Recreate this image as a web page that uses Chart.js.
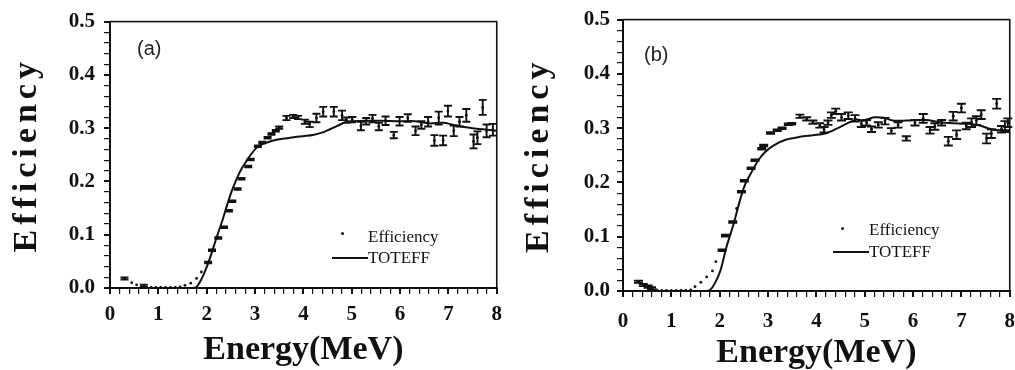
<!DOCTYPE html>
<html>
<head>
<meta charset="utf-8">
<script src="https://cdn.jsdelivr.net/npm/chart.js@4.4.1/dist/chart.umd.min.js"></script>
<style>
  body { margin: 0; background: #fff; width: 1015px; height: 370px; position: relative; overflow: hidden; }
  .panel { position: absolute; top: 0; height: 370px; }
  .tag { position: absolute; font: 20px "Liberation Sans", Arial, sans-serif; color: #222; }
  .leg { position: absolute; font: 17px "Liberation Serif", "Times New Roman", serif; color: #111; line-height: 20px; }
  .dot { position: absolute; width: 3px; height: 3px; background: #111; border-radius: 50%; }
  .seg { position: absolute; height: 2px; background: #111; }
</style>
</head>
<body>
<div class="panel" style="left:0;width:510px"><canvas id="chartA"></canvas></div>
<div class="panel" style="left:510px;width:517px"><canvas id="chartB"></canvas></div>

<div class="tag" style="left:137px;top:37px">(a)</div>
<div class="tag" style="left:644px;top:43px">(b)</div>

<div class="dot" style="left:341px;top:232px"></div>
<div class="leg" style="left:368px;top:227px">Efficiency</div>
<div class="seg" style="left:332px;top:257px;width:36px"></div>
<div class="leg" style="left:368px;top:248px">TOTEFF</div>

<div class="dot" style="left:841px;top:227px"></div>
<div class="leg" style="left:869px;top:220px">Efficiency</div>
<div class="seg" style="left:833px;top:251px;width:36px"></div>
<div class="leg" style="left:869px;top:242px">TOTEFF</div>

<script>
// tick labels
const xTickLabels = ['0', '1', '2', '3', '4', '5', '6', '7', '8'];
const yTickLabels = ['0.0', '0.1', '0.2', '0.3', '0.4', '0.5'];

// panel (a) - measured efficiency
const energyA = [0.30, 0.45, 0.55, 0.70, 0.85, 0.95, 1.05, 1.15, 1.25, 1.35, 1.45, 1.55, 1.67, 1.79, 1.89,
  2.03, 2.11, 2.24, 2.36, 2.46, 2.53, 2.64, 2.72, 2.86, 2.91, 3.06, 3.15, 3.26, 3.34, 3.43, 3.50,
  3.65, 3.79, 3.89, 4.03, 4.13, 4.27, 4.41, 4.63, 4.80, 4.89,
  5.01, 5.19, 5.30, 5.43, 5.56, 5.70, 5.87, 5.99, 6.16, 6.32, 6.44, 6.58, 6.71, 6.80, 6.89, 6.99,
  7.11, 7.23, 7.37, 7.52, 7.60, 7.71, 7.79, 7.92];
const effA = [0.018, 0.010, 0.006, 0.004, 0.001, 0.001, 0.001, 0.001, 0.001, 0.001, 0.002, 0.005, 0.009, 0.018, 0.030,
  0.048, 0.071, 0.094, 0.114, 0.145, 0.163, 0.186, 0.205, 0.228, 0.241, 0.266, 0.273, 0.282, 0.289, 0.295, 0.301,
  0.319, 0.322, 0.320, 0.312, 0.307, 0.319, 0.331, 0.331, 0.324, 0.315,
  0.316, 0.304, 0.313, 0.318, 0.303, 0.314, 0.287, 0.313, 0.319, 0.295, 0.306, 0.312, 0.277, 0.319, 0.277, 0.332,
  0.295, 0.312, 0.324, 0.275, 0.282, 0.339, 0.295, 0.297];
const errA = [0.002, null, null, 0.002, null, null, null, null, null, null, null, null, null, null, null,
  0.0015, 0.0015, 0.0015, 0.0015, 0.0015, 0.0015, 0.0015, 0.0015, 0.0015, 0.0015, 0.0015, 0.0015, 0.0015, 0.0015, 0.0015, 0.002,
  0.004, 0.003, 0.003, 0.004, 0.005, 0.008, 0.009, 0.009, 0.009, 0.005,
  0.005, 0.008, 0.006, 0.007, 0.007, 0.008, 0.006, 0.008, 0.007, 0.008, 0.007, 0.009, 0.010, 0.012, 0.009, 0.010,
  0.010, 0.009, 0.012, 0.013, 0.012, 0.014, 0.012, 0.011];

// panel (a) - TOTEFF curve
const totEnergyA = [0.3, 0.5, 1.0, 1.5, 1.7, 1.79, 1.9, 2.0, 2.1, 2.17, 2.25, 2.34, 2.42, 2.51, 2.58, 2.65, 2.73, 2.82, 2.92, 3.03,
  3.15, 3.31, 3.5, 3.65, 3.8, 3.99, 4.2, 4.4, 4.55, 4.72, 4.89, 5.0, 5.3, 5.6, 6.0, 6.3, 6.6, 6.9, 7.2, 7.5, 7.8, 8.0];
const totEffA = [0, 0, 0, 0, 0, 0.002, 0.018, 0.039, 0.065, 0.085, 0.107, 0.131, 0.155, 0.18, 0.196, 0.211, 0.225, 0.238, 0.251, 0.263,
  0.27, 0.275, 0.279, 0.281, 0.283, 0.285, 0.287, 0.292, 0.298, 0.305, 0.312, 0.313, 0.314, 0.314, 0.313, 0.313, 0.309, 0.31, 0.304, 0.30, 0.297, 0.295];

// panel (b) - measured efficiency
const energyB = [0.32, 0.42, 0.52, 0.59, 0.7, 0.8, 0.9, 1.0, 1.1, 1.2, 1.3, 1.4, 1.49, 1.61, 1.73, 1.85, 1.92,
  2.05, 2.12, 2.27, 2.35, 2.45, 2.51, 2.65, 2.73, 2.87, 2.91, 3.05, 3.19, 3.29, 3.42, 3.49,
  3.66, 3.80, 3.93, 4.07, 4.16, 4.24, 4.31, 4.40, 4.52,
  4.66, 4.80, 4.93, 5.04, 5.14, 5.28, 5.42, 5.55, 5.69, 5.86, 6.04, 6.21, 6.35, 6.45, 6.59,
  6.73, 6.83, 6.90, 7.0, 7.10, 7.21, 7.31, 7.41, 7.52, 7.62, 7.73, 7.83, 7.90, 7.96];
const effB = [0.017, 0.011, 0.008, 0.005, 0.002, 0.001, 0.001, 0.001, 0.001, 0.001, 0.001, 0.002, 0.008, 0.016, 0.026, 0.037, 0.054,
  0.075, 0.102, 0.127, 0.152, 0.183, 0.203, 0.226, 0.241, 0.262, 0.268, 0.291, 0.296, 0.300, 0.307, 0.308,
  0.322, 0.317, 0.311, 0.305, 0.297, 0.310, 0.324, 0.331, 0.320,
  0.323, 0.318, 0.308, 0.310, 0.298, 0.306, 0.313, 0.295, 0.306, 0.281, 0.310, 0.318, 0.296, 0.303, 0.310,
  0.276, 0.322, 0.288, 0.337, 0.304, 0.310, 0.314, 0.325, 0.281, 0.290, 0.345, 0.298, 0.303, 0.310];
const errB = [0.002, 0.002, 0.002, 0.002, null, null, null, null, null, null, null, null, null, null, null, null, null,
  0.0015, 0.0015, 0.0015, null, 0.0015, 0.0015, 0.0015, 0.0015, 0.0015, 0.0015, 0.0015, 0.0015, 0.0015, 0.0015, 0.0015,
  0.003, 0.003, 0.003, 0.004, 0.005, 0.004, 0.005, 0.005, 0.006,
  0.006, 0.006, 0.006, 0.005, 0.005, 0.005, 0.006, 0.005, 0.005, 0.004, 0.005, 0.008, 0.006, 0.006, 0.005,
  0.008, 0.008, 0.008, 0.008, 0.006, 0.008, 0.008, 0.008, 0.009, 0.008, 0.009, 0.006, 0.010, 0.008];

// panel (b) - TOTEFF curve
const totEnergyB = [0.3, 1.0, 1.5, 1.7, 1.8, 1.9, 2.02, 2.14, 2.28, 2.4, 2.52, 2.66, 2.8, 2.94, 3.11, 3.38, 3.66, 3.93, 4.18, 4.42,
  4.69, 4.83, 4.96, 5.2, 5.4, 5.58, 5.86, 6.27, 6.55, 6.82, 7.1, 7.38, 7.65, 8.0];
const totEffB = [0, 0, 0, 0, 0.002, 0.014, 0.039, 0.081, 0.121, 0.161, 0.195, 0.219, 0.241, 0.256, 0.268, 0.279, 0.284, 0.287, 0.29, 0.299,
  0.311, 0.316, 0.314, 0.32, 0.319, 0.314, 0.314, 0.315, 0.311, 0.309, 0.308, 0.305, 0.297, 0.296];

const pts = (xs, ys) => xs.map((x, i) => ({ x: x, y: ys[i] }));
const isWhole = (v, f) => Math.abs(v * f - Math.round(v * f)) < 1e-6;

// draws the error bars of a dataset that carries an "errors" list
const errorBars = {
  id: 'errorBars',
  afterDatasetsDraw(chart) {
    const { ctx, scales: { x, y } } = chart;
    chart.data.datasets.forEach(ds => {
      if (!ds.errors) return;
      const cap = ds.capHalf || 4;
      ctx.save();
      ctx.strokeStyle = '#111';
      ctx.lineWidth = 1.9;
      ctx.beginPath();
      ds.data.forEach((p, j) => {
        const e = ds.errors[j];
        if (e == null) return;
        const px = x.getPixelForValue(p.x);
        const top = y.getPixelForValue(p.y + e);
        const bot = y.getPixelForValue(p.y - e);
        ctx.moveTo(px, top); ctx.lineTo(px, bot);
        ctx.moveTo(px - cap, top); ctx.lineTo(px + cap, top);
        ctx.moveTo(px - cap, bot); ctx.lineTo(px + cap, bot);
      });
      ctx.stroke();
      ctx.restore();
    });
  }
};

// box round the plot area + spaced y title
const frame = {
  id: 'frame',
  beforeDraw(chart) {
    const s = chart.scales.y;
    if (s && !s._spaced) {
      const orig = s.drawTitle;
      s.drawTitle = function () {
        this.ctx.save();
        this.ctx.letterSpacing = '5px';
        orig.call(this);
        this.ctx.restore();
      };
      s._spaced = true;
    }
  },
  afterDraw(chart) {
    const { ctx, chartArea: a } = chart;
    ctx.save();
    ctx.strokeStyle = '#111';
    ctx.lineWidth = 1.6;
    ctx.strokeRect(a.left, a.top, a.right - a.left, a.bottom - a.top);
    ctx.restore();
  }
};

function makeChart(id, energy, eff, err, totE, totV, g) {
  const canvas = document.getElementById(id);
  canvas.width = g.w;
  canvas.height = 370;
  new Chart(canvas, {
    type: 'scatter',
    data: {
      datasets: [{
        label: 'Efficiency',
        data: pts(energy, eff),
        errors: err,
        capHalf: g.cap,
        pointRadius: 1.4,
        pointBackgroundColor: '#111',
        pointBorderWidth: 0,
        showLine: false
      }, {
        label: 'TOTEFF',
        data: pts(totE, totV),
        showLine: true,
        borderColor: '#111',
        borderWidth: 2,
        pointRadius: 0,
        tension: 0.3
      }]
    },
    options: {
      responsive: false,
      animation: false,
      events: [],
      layout: { padding: { left: 0, top: g.top, right: 5, bottom: 0 } },
      plugins: { legend: { display: false }, tooltip: { enabled: false } },
      scales: {
        x: {
          type: 'linear',
          min: 0, max: 8,
          afterFit: s => { s.height = g.xh; },
          border: { color: '#111', width: 2 },
          grid: {
            drawOnChartArea: false, tickLength: 6, color: '#111',
            lineWidth: c => (c.tick && isWhole(c.tick.value, 1)) ? 2 : 1.2
          },
          ticks: {
            stepSize: 0.2, autoSkip: false, maxRotation: 0, padding: g.xpad, color: '#111',
            font: { family: '"Liberation Serif", "Times New Roman", serif', size: 21, weight: 'bold' },
            callback: v => isWhole(v, 1) ? xTickLabels[Math.round(v)] : ''
          },
          title: {
            display: true, text: 'Energy(MeV)', color: '#111',
            padding: { top: 0, bottom: g.tpad },
            font: { family: '"Liberation Serif", "Times New Roman", serif', size: 34, weight: 'bold' }
          }
        },
        y: {
          min: 0, max: 0.5,
          afterFit: s => { s.width = g.yw; },
          border: { color: '#111', width: 2 },
          grid: {
            drawOnChartArea: false, tickLength: 6, color: '#111',
            lineWidth: c => (c.tick && isWhole(c.tick.value, 10)) ? 2 : 1.2
          },
          ticks: {
            stepSize: 0.02, autoSkip: false, padding: g.ypad, color: '#111',
            font: { family: '"Liberation Serif", "Times New Roman", serif', size: 21, weight: 'bold' },
            callback: v => isWhole(v, 10) ? yTickLabels[Math.round(v * 10)] : ''
          },
          title: {
            display: true, text: 'Efficiency', color: '#111',
            padding: { top: g.ytpad, bottom: 0 },
            font: { family: '"Liberation Serif", "Times New Roman", serif', size: 34, weight: 'bold' }
          }
        }
      }
    },
    plugins: [errorBars, frame]
  });
}

makeChart('chartA', energyA, effA, errA, totEnergyA, totEffA,
  { w: 510, top: 16, xh: 82, yw: 110, xpad: 8, ypad: 9, tpad: -1, ytpad: 7, cap: 4 });
makeChart('chartB', energyB, effB, errB, totEnergyB, totEffB,
  { w: 517, top: 19, xh: 79, yw: 113, xpad: 12, ypad: 7, tpad: -4, ytpad: 9, cap: 4.5 });
</script>
</body>
</html>
